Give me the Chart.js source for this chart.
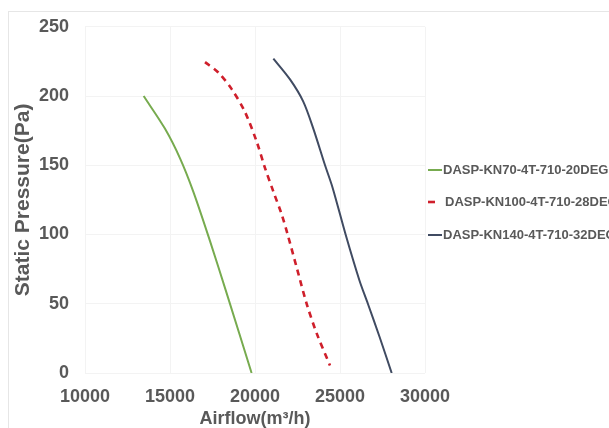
<!DOCTYPE html>
<html>
<head>
<meta charset="utf-8">
<script src="https://cdn.jsdelivr.net/npm/chart.js@4/dist/chart.umd.min.js"></script>
<style>
  html, body { margin: 0; padding: 0; background: #fff; overflow: hidden; }
  #wrap { position: relative; width: 609px; height: 428px; }
  #frame { position: absolute; left: 8px; top: 11px; right: -2px; bottom: -2px;
           border-top: 1px solid #e6e6e6; border-left: 1px solid #e6e6e6; }
  canvas { position: absolute; left: 0; top: 0; }
</style>
</head>
<body>
<div id="wrap">
  <div id="frame"></div>
  <canvas id="chart" width="609" height="428"></canvas>
</div>
<script>
// === Data ===
var seriesNames = ['DASP-KN70-4T-710-20DEG', 'DASP-KN100-4T-710-28DEG', 'DASP-KN140-4T-710-32DEG'];

var kn70Flow = [13450, 14700, 15590, 16370, 17350, 18340, 19800];
var kn70Pres = [200, 176.5, 155, 131, 95.4, 57.3, 0];

var kn100Flow = [17060, 17840, 18630, 19410, 20100, 20590, 21080, 21570, 21920, 22450, 23040, 23630, 24410];
var kn100Pres = [224.5, 217, 205, 188.5, 167, 148, 131, 114.5, 100, 76.3, 50, 28.6, 5.5];

var kn140Flow = [21080, 22060, 22840, 23430, 24120, 24560, 25330, 26140, 26640, 27330, 28040];
var kn140Pres = [227, 212, 196, 176.5, 150, 134, 100, 67, 50, 26, 0];

var xTicks = [10000, 15000, 20000, 25000, 30000];
var yTicks = [0, 50, 100, 150, 200, 250];

var textColor = '#595959';
var gridColor = '#f3f3f3';
var fontFamily = '"Liberation Sans", Arial, sans-serif';

function toPoints(xs, ys) {
    return xs.map(function(x, i) { return { x: x, y: ys[i] }; });
}

// legend drawn by hand so it can run off the right edge like the original
var sideLegend = {
    id: 'sideLegend',
    afterDraw: function(chart) {
        var ctx = chart.ctx;
        var ys = [170, 202, 235];
        ctx.save();
        ctx.font = 'bold 13px ' + fontFamily;
        ctx.textBaseline = 'middle';
        ctx.textAlign = 'left';
        chart.data.datasets.forEach(function(ds, i) {
            var y = ys[i];
            ctx.strokeStyle = ds.borderColor;
            ctx.lineWidth = ds.borderWidth;
            ctx.setLineDash([]);
            ctx.beginPath();
            ctx.moveTo(428, y);
            ctx.lineTo(ds.borderDash ? 435 : 442, y);
            ctx.stroke();
            ctx.fillStyle = textColor;
            ctx.fillText(ds.label, ds.borderDash ? 445 : 443, y);
        });
        ctx.restore();
    }
};

var ctx = document.getElementById('chart').getContext('2d');
new Chart(ctx, {
    type: 'scatter',
    data: {
        datasets: [{
            label: seriesNames[0],
            data: toPoints(kn70Flow, kn70Pres),
            borderColor: '#77ab4f',
            borderWidth: 2
        }, {
            label: seriesNames[1],
            data: toPoints(kn100Flow, kn100Pres),
            borderColor: '#cf1f2b',
            borderWidth: 2.6,
            borderDash: [6, 5]
        }, {
            label: seriesNames[2],
            data: toPoints(kn140Flow, kn140Pres),
            borderColor: '#404b62',
            borderWidth: 2
        }]
    },
    options: {
        responsive: false,
        animation: false,
        showLine: true,
        elements: {
            point: { radius: 0, hoverRadius: 0 },
            line: { tension: 0.3, fill: false }
        },
        layout: { padding: { left: 8, right: 184, top: 24, bottom: 0 } },
        plugins: {
            legend: { display: false },
            tooltip: { enabled: false }
        },
        scales: {
            x: {
                type: 'linear',
                min: 10000,
                max: 30000,
                afterBuildTicks: function(scale) {
                    scale.ticks = xTicks.map(function(v) { return { value: v }; });
                },
                afterFit: function(scale) { scale.height = 55; },
                ticks: {
                    color: textColor,
                    padding: 13,
                    maxRotation: 0,
                    callback: function(v) { return String(v); },
                    font: { family: fontFamily, size: 18, weight: 'bold' }
                },
                grid: { color: gridColor, drawTicks: false },
                border: { display: false },
                title: {
                    display: true,
                    text: 'Airflow(m³/h)',
                    color: textColor,
                    padding: 0,
                    font: { family: fontFamily, size: 18, weight: 'bold', lineHeight: 1 }
                }
            },
            y: {
                type: 'linear',
                min: 0,
                max: 250,
                afterBuildTicks: function(scale) {
                    scale.ticks = yTicks.map(function(v) { return { value: v }; });
                },
                afterFit: function(scale) { scale.width = 77; },
                ticks: {
                    color: textColor,
                    padding: 16,
                    callback: function(v) { return String(v); },
                    font: { family: fontFamily, size: 18, weight: 'bold' }
                },
                grid: { color: gridColor, drawTicks: false },
                border: { display: false },
                title: {
                    display: true,
                    text: 'Static Pressure(Pa)',
                    color: textColor,
                    padding: { top: 3, bottom: 0 },
                    font: { family: fontFamily, size: 21, weight: 'bold' }
                }
            }
        }
    },
    plugins: [sideLegend]
});
</script>
</body>
</html>
